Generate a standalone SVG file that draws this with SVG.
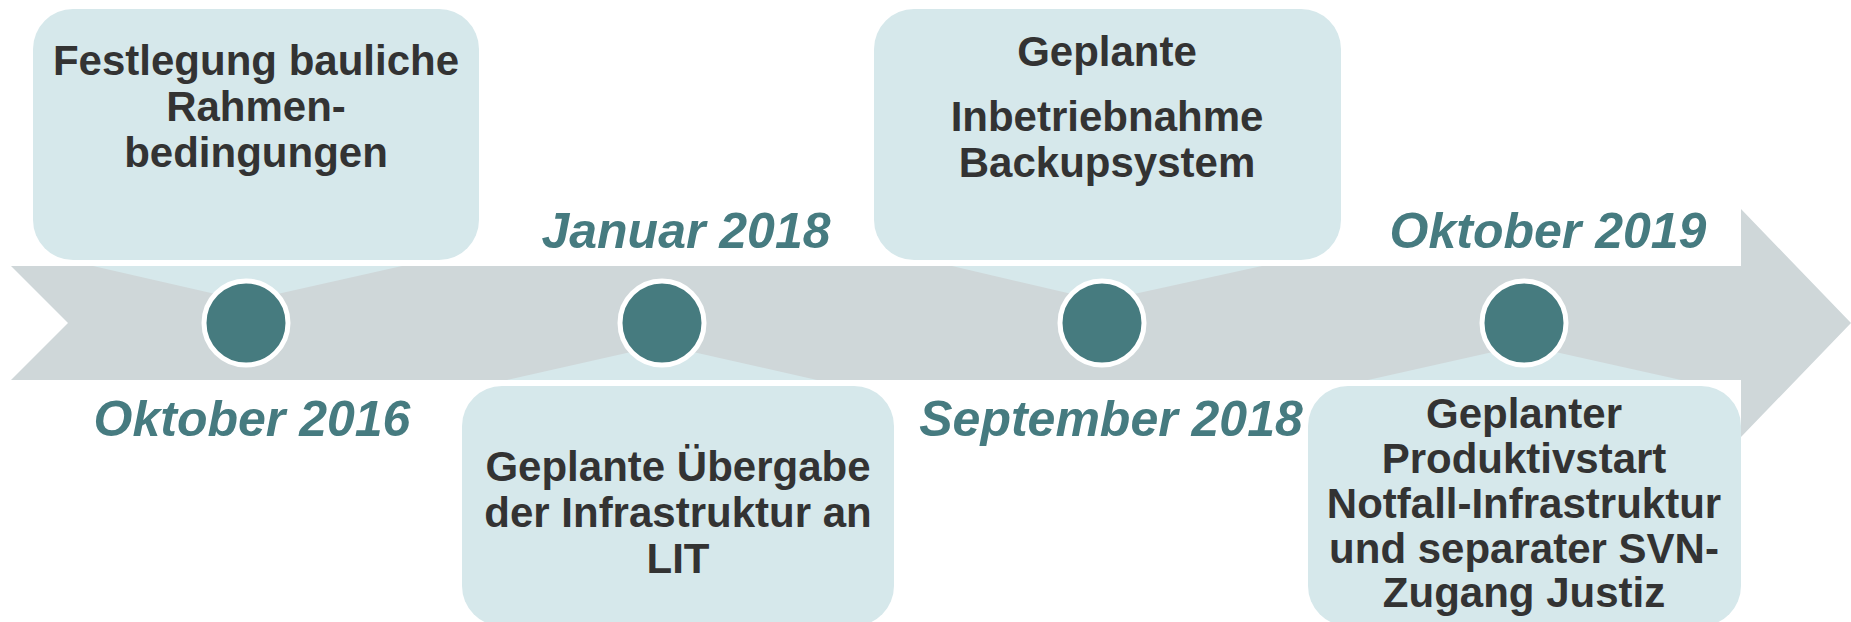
<svg xmlns="http://www.w3.org/2000/svg" width="1851" height="622" viewBox="0 0 1851 622">
<style>
.box{fill:#D6E8EB}
.band{fill:#CFD7D9}
.call{fill:#D6E8EB}
.dot{fill:#467B7F;stroke:#FFFFFF;stroke-width:5}
.t{font-family:"Liberation Sans",Arial,sans-serif;font-weight:bold;font-size:42px;fill:#333333;text-anchor:middle}
.d{font-family:"Liberation Sans",Arial,sans-serif;font-weight:bold;font-style:italic;font-size:50px;fill:#467B80;text-anchor:middle}
</style>
<rect width="1851" height="622" fill="#FFFFFF"/>
<g id="timeline">
<polygon class="band" points="11,266 1741,266 1741,209 1851,323 1741,437 1741,380 11,380 68,323"/>
</g>
<g id="connectors">
<polygon class="call" points="93,266 402,266 246,301"/>
<polygon class="call" points="507,380 817,380 662,345"/>
<polygon class="call" points="952,266 1262,266 1102,301"/>
<polygon class="call" points="1368,380 1681,380 1524,345"/>
</g>
<g id="node1">
<rect class="box" x="33" y="9" width="446" height="251" rx="40"/>
<text class="t" x="256" y="75">Festlegung bauliche</text>
<text class="t" x="256" y="121">Rahmen-</text>
<text class="t" x="256" y="167">bedingungen</text>
<circle class="dot" cx="246" cy="323" r="42"/>
<text class="d" x="252" y="436">Oktober 2016</text>
</g>
<g id="node2">
<rect class="box" x="462" y="386" width="432" height="240" rx="40"/>
<text class="t" x="678" y="481">Geplante Übergabe</text>
<text class="t" x="678" y="527">der Infrastruktur an</text>
<text class="t" x="678" y="573">LIT</text>
<circle class="dot" cx="662" cy="323" r="42"/>
<text class="d" x="686" y="248">Januar 2018</text>
</g>
<g id="node3">
<rect class="box" x="874" y="9" width="467" height="251" rx="40"/>
<text class="t" x="1107" y="66">Geplante</text>
<text class="t" x="1107" y="131">Inbetriebnahme</text>
<text class="t" x="1107" y="177">Backupsystem</text>
<circle class="dot" cx="1102" cy="323" r="42"/>
<text class="d" x="1111" y="436">September 2018</text>
</g>
<g id="node4">
<rect class="box" x="1308" y="386" width="433" height="240" rx="40"/>
<text class="t" x="1524" y="428">Geplanter</text>
<text class="t" x="1524" y="473">Produktivstart</text>
<text class="t" x="1524" y="518">Notfall-Infrastruktur</text>
<text class="t" x="1524" y="563">und separater SVN-</text>
<text class="t" x="1524" y="607">Zugang Justiz</text>
<circle class="dot" cx="1524" cy="323" r="42"/>
<text class="d" x="1548" y="248">Oktober 2019</text>
</g>
</svg>
